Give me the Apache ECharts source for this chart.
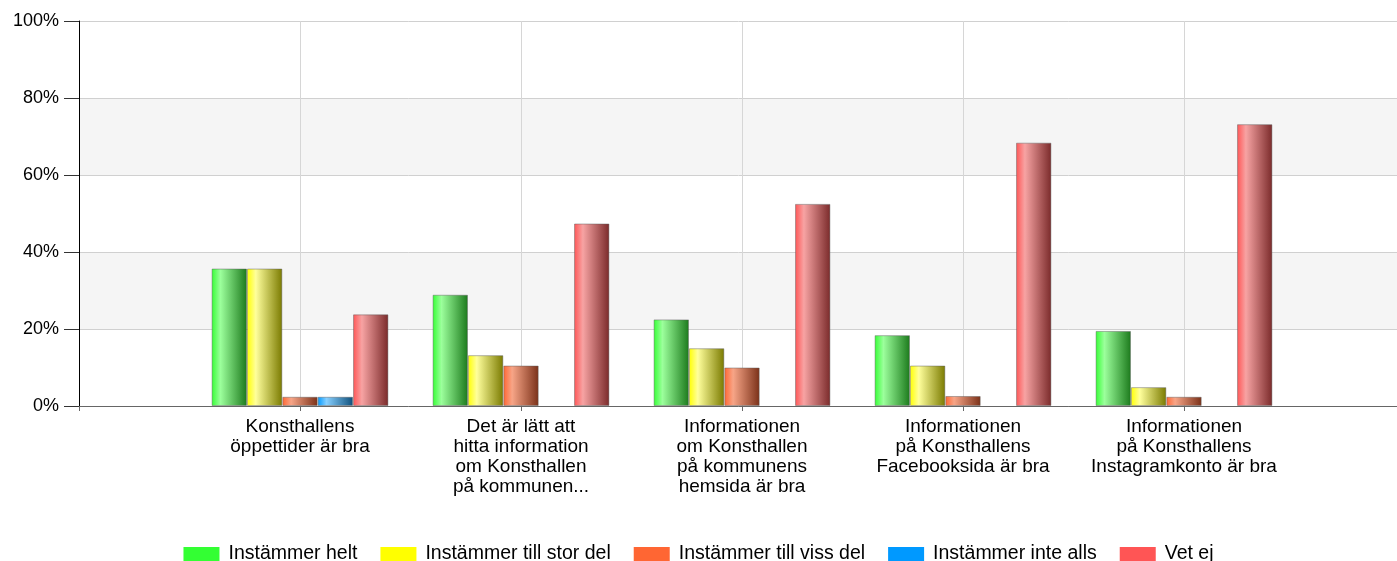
<!DOCTYPE html>
<html>
<head>
<meta charset="utf-8">
<script src="https://cdn.jsdelivr.net/npm/echarts@6/dist/echarts.min.js"></script>
<style>
  html, body { margin: 0; padding: 0; background: #fff; }
  #chart { width: 1397px; height: 561px; }
</style>
</head>
<body>
<div id="chart"></div>
<script>
const categories = [
  "Konsthallens\nöppettider är bra",
  "Det är lätt att\nhitta information\nom Konsthallen\npå kommunen...",
  "Informationen\nom Konsthallen\npå kommunens\nhemsida är bra",
  "Informationen\npå Konsthallens\nFacebooksida är bra",
  "Informationen\npå Konsthallens\nInstagramkonto är bra"
];
const seriesNames = ["Instämmer helt", "Instämmer till stor del", "Instämmer till viss del", "Instämmer inte alls", "Vet ej"];
const helt = [35.7, 28.9, 22.5, 18.4, 19.5];
const storDel = [35.7, 13.2, 15.0, 10.5, 4.9];
const vissDel = [2.4, 10.5, 10.0, 2.6, 2.4];
const inteAlls = [2.4, 0, 0, 0, 0];
const vetEj = [23.8, 47.4, 52.5, 68.4, 73.2];
const yTicks = [0, 20, 40, 60, 80, 100];

const baseColors = ["#33ff33", "#ffff00", "#ff6633", "#0099ff", "#ff5555"];
const lightColors = ["#9cff9c", "#ffff9c", "#f7a587", "#86cfff", "#f7a3a3"];
const darkColors = ["#1c7a1c", "#7a7a00", "#7a3018", "#0f4f7a", "#7a2a2a"];
const allData = [helt, storDel, vissDel, inteAlls, vetEj];

const chart = echarts.init(document.getElementById("chart"));
const font = "Liberation Sans, Arial, sans-serif";

chart.setOption({
  animation: false,
  grid: { left: 79, width: 1326, top: 21, bottom: 155, containLabel: false, outerBoundsMode: "none" },
  legend: {
    top: 539,
    left: "center",
    itemWidth: 36,
    itemHeight: 14,
    itemGap: 23,
    icon: "rect",
    itemStyle: { borderWidth: 0 },
    textStyle: { fontFamily: font, fontSize: 19.5, color: "#000", padding: [0, 0, 0, 4] },
    data: seriesNames.map((n, i) => ({ name: n, itemStyle: { color: baseColors[i], borderWidth: 0 } }))
  },
  xAxis: {
    type: "category",
    boundaryGap: false,
    data: ["", ...categories, ""],
    axisLine: { lineStyle: { color: "#666", width: 1 } },
    axisTick: { show: true, length: 5, lineStyle: { color: "#666" } },
    axisLabel: { interval: 0, fontFamily: font, fontSize: 19, color: "#000", lineHeight: 20, margin: 11 },
    splitLine: { show: true, lineStyle: { color: "#d6d6d6" } }
  },
  yAxis: {
    type: "value",
    min: 0,
    max: 100,
    interval: 20,
    axisLine: { show: true, lineStyle: { color: "#000" } },
    axisTick: { show: true, length: 15, lineStyle: { color: "#333" } },
    axisLabel: { fontFamily: font, fontSize: 18, color: "#000", margin: 20, formatter: (v) => yTicks.includes(v) ? v + "%" : "" },
    splitLine: { lineStyle: { color: "#d0d0d0" } },
    splitArea: { show: true, areaStyle: { color: ["#ffffff", "#f5f5f5"] } }
  },
  series: allData.map((vals, i) => ({
    name: seriesNames[i],
    type: "bar",
    barWidth: "16%",
    barGap: "0%",
    data: [null, ...vals.map((v) => (v === 0 ? null : v)), null],
    itemStyle: {
      color: new echarts.graphic.LinearGradient(0, 0, 1, 0, [
        { offset: 0, color: baseColors[i] },
        { offset: 0.25, color: lightColors[i] },
        { offset: 1, color: darkColors[i] }
      ]),
      borderColor: "rgba(90,90,90,0.45)",
      borderWidth: 1
    }
  }))
});
</script>
</body>
</html>
